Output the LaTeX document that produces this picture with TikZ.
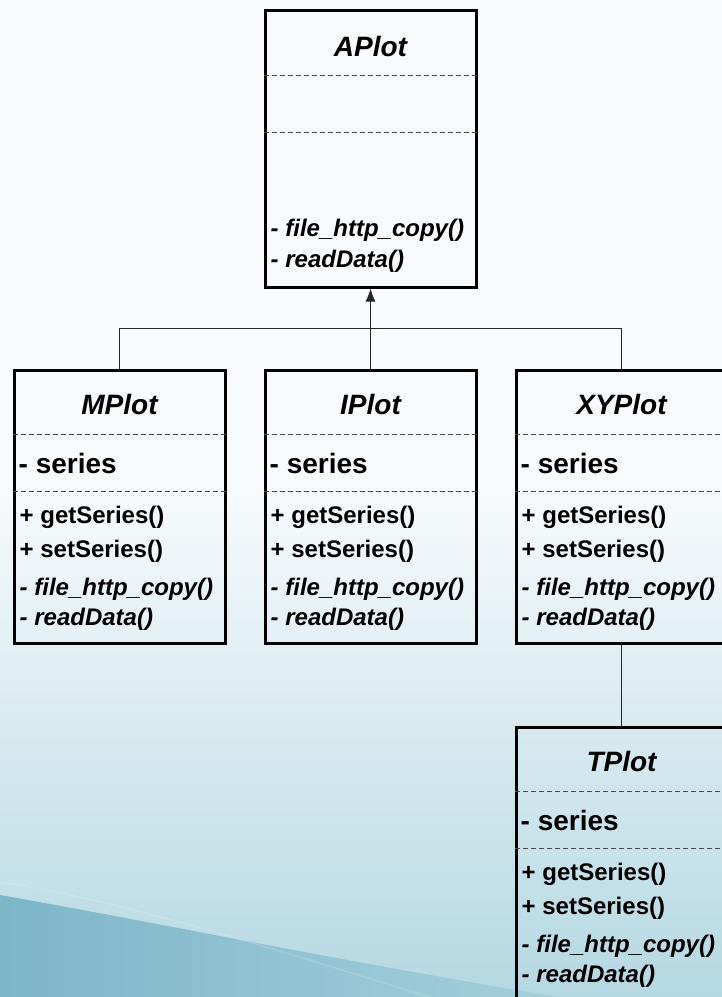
\documentclass[tikz,border=0pt]{standalone}
\usepackage{fontspec}
\setmainfont{Liberation Sans}
\usetikzlibrary{positioning,arrows.meta,calc}
\definecolor{bgtop}{HTML}{F8FBFD}
\definecolor{bgmid}{HTML}{EEF7F9}
\definecolor{bgbot}{HTML}{B5D8E2}
\definecolor{bandl}{HTML}{7DB6C9}
\definecolor{bandr}{HTML}{A5CFDB}
\tikzset{
	>={Latex[length=13pt,width=10pt]}
}

\begin{document}
\begin{tikzpicture}[
	x = 1pt, y = -1pt,
	node distance = 37pt,
	every node/.style = {
		font = \bfseries
	},
	umlclass/.style = {
		draw,
		line width = 3pt,
		minimum width = 211pt,
		inner sep = 0pt
	},
	classname/.style = {
		inner sep = 0pt,
		font = \bfseries\itshape\fontsize{28}{32}\selectfont
	},
	attr/.style = {
		anchor = west,
		inner sep = 0pt,
		font = \bfseries\fontsize{28}{32}\selectfont
	},
	method/.style = {
		anchor = west,
		inner sep = 0pt,
		font = \bfseries\fontsize{24}{28}\selectfont
	},
	imethod/.style = {
		method,
		font = \bfseries\itshape\fontsize{24}{28}\selectfont
	},
	divider/.style = {
		dash pattern = on 5pt off 3pt,
		line width = 1pt,
		black!70
	},
	connector/.style = {
		line width = 1pt,
		black!85
	}
	]

	\useasboundingbox (0,0) rectangle (722,997);
	\clip (0,0) rectangle (722,997);

	% background
	\fill[bgtop] (0,0) rectangle (722,480);
	\shade[top color = bgtop, middle color = bgmid, bottom color = bgbot] (0,479) rectangle (722,997);
	\shade[left color = bandl, right color = bandr] (0,895) .. controls (170,925) and (360,965) .. (560,997) -- (0,997) -- cycle;
	\draw[white, line width = 1.5pt, opacity = 0.15] (0,882) .. controls (120,900) and (260,945) .. (430,997);

	% classes
	\node[umlclass, minimum height = 277pt] (aplot) at (370.5,148.5) {};
	\node[umlclass, minimum height = 273pt, below = 80pt of aplot] (iplot) {};
	\node[umlclass, minimum height = 273pt, left = of iplot] (mplot) {};
	\node[umlclass, minimum height = 273pt, right = of iplot] (xyplot) {};
	\node[umlclass, minimum height = 290pt, below = 81pt of xyplot] (tplot) {};

	\node[classname] (aplot-name) at ($(aplot.north)+(0,38)$) {APlot};
	\draw[divider] ($(aplot.north west)+(0,67)$) -- ($(aplot.north east)+(0,67)$);
	\draw[divider] ($(aplot.north west)+(0,124)$) -- ($(aplot.north east)+(0,124)$);
	\node[imethod] (aplot-copy) at ($(aplot.north west)+(7,222)$) {- file\_http\_copy()};
	\node[imethod] (aplot-read) at ($(aplot.north west)+(7,253)$) {- readData()};

	\foreach \c/\n in {mplot/MPlot, iplot/IPlot, xyplot/XYPlot, tplot/TPlot} {
		\node[classname] (\c-name) at ($(\c.north)+(0,36)$) {\n};
		\draw[divider] ($(\c.north west)+(0,66)$) -- ($(\c.north east)+(0,66)$);
		\node[attr] (\c-series) at ($(\c.north west)+(6,95)$) {- series};
		\draw[divider] ($(\c.north west)+(0,123)$) -- ($(\c.north east)+(0,123)$);
		\node[method] (\c-get) at ($(\c.north west)+(7,149)$) {+ getSeries()};
		\node[method] (\c-set) at ($(\c.north west)+(7,183)$) {+ setSeries()};
		\node[imethod] (\c-copy) at ($(\c.north west)+(7,221)$) {- file\_http\_copy()};
		\node[imethod] (\c-read) at ($(\c.north west)+(7,251)$) {- readData()};
	}

	% inheritance
	\coordinate (branch) at ($(aplot.south)+(0,40)$);
	\draw[connector, ->] (iplot.north) -- (aplot.south);
	\draw[connector] (mplot.north) |- (branch) -| (xyplot.north);
	\draw[connector] (xyplot.south) -- (tplot.north);

\end{tikzpicture}
\end{document}
